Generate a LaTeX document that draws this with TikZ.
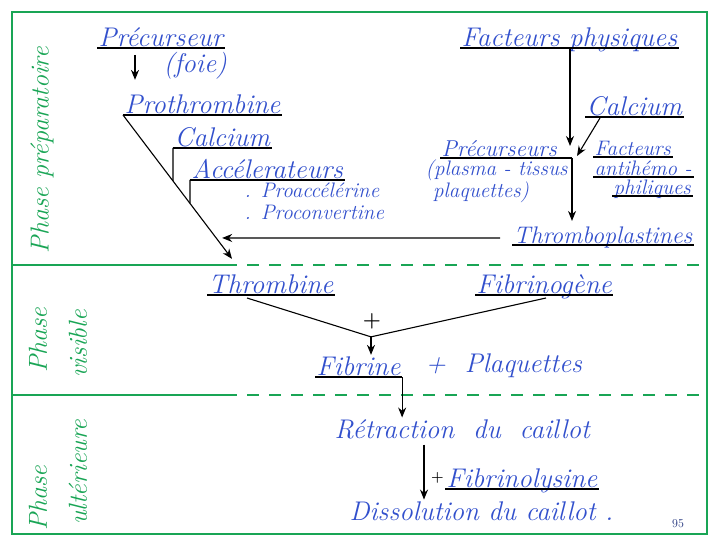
\documentclass[tikz,border=0pt]{standalone}
\usepackage{tikz}
\usetikzlibrary{calc}
\usetikzlibrary{arrows.meta, positioning, intersections}
\definecolor{encre}{RGB}{50,80,205}
\definecolor{vert}{RGB}{25,165,85}
\newcommand{\ecrit}{\fontsize{27}{29}\selectfont\itshape}
\newcommand{\moyen}{\fontsize{23}{25}\selectfont\itshape}
\newcommand{\petit}{\fontsize{21}{19}\selectfont\itshape}
\tikzset{>={Stealth[length=10pt,width=8pt]}}
\tikzset{mot/.style={text=encre, font=\ecrit, inner sep=1.5pt, text depth=0pt},
  souligne/.style={append after command={(\tikzlastnode.south west) edge[draw=black,line width=1.1pt] (\tikzlastnode.south east)}},
  trait/.style={line width=1.1pt},
  fleche/.style={trait,->},
  signe/.style={text=black, font=\bfseries\huge, inner sep=0pt},
  phase/.style={text=vert, font=\fontsize{26}{28}\selectfont\itshape, rotate=90, inner sep=1pt},
  cadre/.style={draw=vert, line width=1.6pt},
  tirets/.style={cadre, dash pattern=on 12pt off 10pt}}

\begin{document}
\begin{tikzpicture}[x=1pt,y=-1pt]
\useasboundingbox (0,0) rectangle (720,540);
\fill[white] (0,0) rectangle (720,540);
% cadre et phases
\draw[cadre] (12,12) rectangle (707,534);
\draw[cadre] (12,265) -- (225,265);
\draw[tirets] (225,265) -- (707,265);
\draw[cadre] (12,395) -- (225,395);
\draw[tirets] (225,395) -- (707,395);
\node[phase] (ph1) at (42,150) {Phase préparatoire};
\node[phase] (ph2a) at (38,340) {Phase};
\node[phase] (ph2b) at (78,344) {visible};
\node[phase] (ph3a) at (38,498) {Phase};
\node[phase] (ph3b) at (78,472) {ultérieure};

% phase preparatoire, a gauche
\node[mot,souligne,anchor=south west] (prec) at (97,48) {Précurseur};
\node[mot,anchor=north east] (foie) at ($(prec.south east)+(4,3)$) {(foie)};
\node[mot,souligne,anchor=south west] (proth) at (123,115) {Prothrombine};
\node[mot,souligne,anchor=south west] (calc1) at (173,148) {Calcium};
\node[mot,souligne,anchor=south west] (accel) at (190,180) {Accélerateurs};
\node[mot,font=\petit,anchor=base west] (proacc) at (243,198) {. Proaccélérine};
\node[mot,font=\petit,anchor=base west] (proconv) at (243,219) {. Proconvertine};

% phase preparatoire, a droite
\node[mot,souligne,anchor=south west] (facphy) at (460,48) {Facteurs physiques};
\node[mot,souligne,anchor=south west] (calc2) at (585,117) {Calcium};
\node[mot,font=\moyen,souligne,anchor=south west] (precs) at (440,158) {Précurseurs};
\node[mot,font=\petit,anchor=north west,align=left] (precdet) at ($(precs.south west)+(-16,0)$) {(plasma - tissus\\ \ plaquettes)};
\node[mot,font=\petit,souligne,anchor=south west] (fa1) at (593,157) {Facteurs};
\node[mot,font=\petit,souligne,anchor=south west] (fa2) at (593,177) {antihémo -};
\node[mot,font=\petit,souligne,anchor=south west] (fa3) at (612,196) {philiques};
\node[mot,font=\fontsize{24}{26}\selectfont\itshape,souligne,anchor=south west] (thrpl) at (512,245) {Thromboplastines};

% phase visible
\node[mot,souligne,anchor=south west] (thromb) at (207,295) {Thrombine};
\node[mot,souligne,anchor=south west] (fibrg) at (475,295) {Fibrinogène};
\node[mot,souligne,anchor=south west] (fibr) at (315,377) {Fibrine};
\node[mot,anchor=base west] (plaq) at (424,372) {+ \ Plaquettes};

% phase ulterieure
\node[mot,anchor=base west] (retr) at (333,438) {Rétraction \ du \ caillot};
\node[mot,souligne,anchor=south west] (fibly) at (445,489) {Fibrinolysine};
\node[signe,font=\bfseries\Large,left=1pt of fibly] (plus2) {+};
\node[mot,anchor=base west] (diss) at (348,520) {Dissolution du caillot .};
\node[text=encre!60!black,font=\large] (page) at (678,524) {95};

% fleches de gauche
\draw[fleche] ($(prec.south west)+(38,7)$) -- ($(proth.north west)+(12,-13)$);
\draw[fleche,name path=diag] (proth.south west) -- ($(thromb.north west)+(25,-14)$);
\path[name path=v1] (calc1.south west) -- ++(0,80);
\draw[trait,name intersections={of=diag and v1,by=i1}] (calc1.south west) -- (i1);
\path[name path=v2] (accel.south west) -- ++(0,80);
\draw[trait,name intersections={of=diag and v2,by=i2}] (accel.south west) -- (i2);
\path[name path=h1] ($(thrpl.west)+(-12,3)$) -- ++(-400,0);
\draw[fleche,name intersections={of=diag and h1,by=i3}] ($(thrpl.west)+(-12,3)$) -- ($(i3)+(6,0)$);

% fleches de droite
\path (facphy.south west) ++(112,0) coordinate (haut);
\coordinate (jonc) at (haut |- precs.south);
\draw[trait] (precs.south east) -- (jonc);
\draw[fleche] ($(haut)+(-2,0)$) -- ($(jonc)+(-2,-12)$);
\draw[fleche] ($(calc2.south west)+(15,1)$) -- ($(jonc)+(5,-2)$);
\draw[fleche] (jonc) -- ($(jonc |- thrpl.north)+(0,-4)$);

% fibrine
\coordinate (jfib) at ($(fibr.north west)+(56,-18)$);
\draw[trait] ($(thromb.south west)+(40,3)$) -- (jfib);
\draw[trait] ($(fibrg.south west)+(71,3)$) -- (jfib);
\node[signe] (plus1) at ($(jfib)+(1,-16)$) {+};
\draw[fleche] (jfib) -- (jfib |- fibr.north);
\draw[fleche] (fibr.south east) -- (fibr.south east |- retr.north);
\draw[fleche] ($(retr.south west)+(91,5)$) -- ($(retr.south west |- diss.north)+(91,0)$);
\end{tikzpicture}
\end{document}
